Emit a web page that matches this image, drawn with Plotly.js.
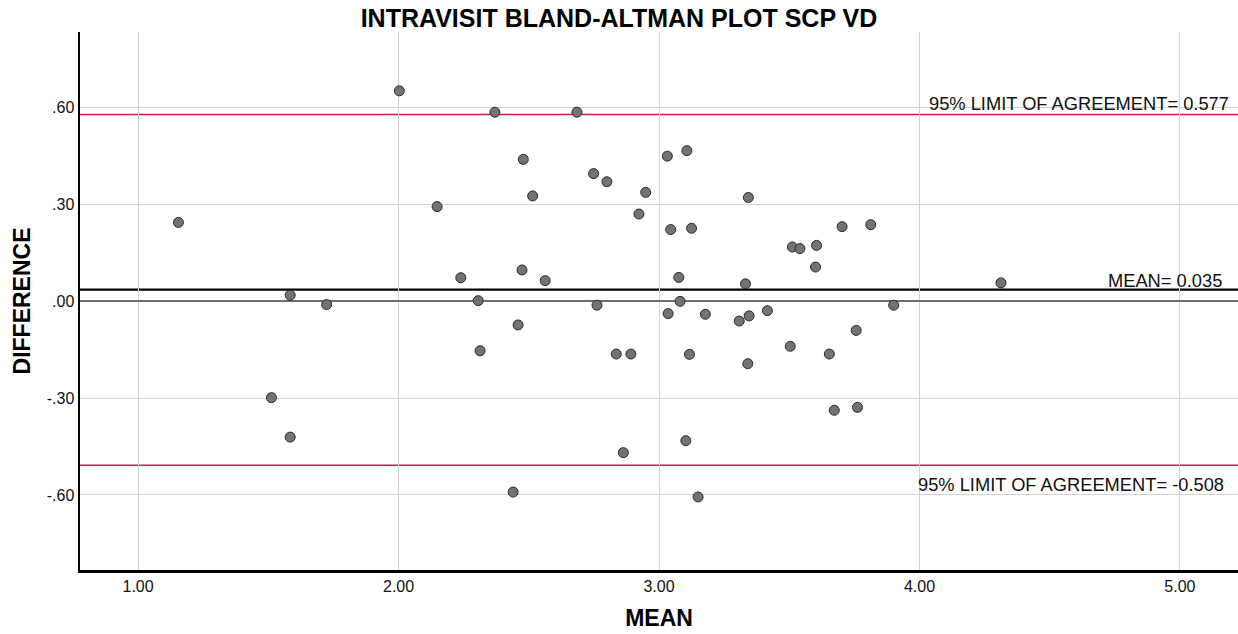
<!DOCTYPE html>
<html>
<head>
<meta charset="utf-8">
<script src="https://cdn.plot.ly/plotly-3.0.1.min.js"></script>
<style>html,body{margin:0;padding:0;background:#fff;}#chart{width:1238px;height:634px;}</style>
</head>
<body>
<div id="chart"></div>
<script>
// Bland-Altman data: mean of two measurements (x) vs difference (y)
const meanValues = [1.155, 2.003, 1.584, 1.724, 2.370, 2.685, 2.479, 2.515, 2.148, 2.749,
  2.800, 2.949, 2.923, 3.032, 3.107, 3.045, 3.125, 3.343, 3.512, 3.541,
  3.605, 3.601, 2.239, 2.474, 2.563, 3.076, 3.332, 2.306, 2.762, 3.081,
  3.035, 3.178, 3.308, 3.346, 3.416, 3.703, 3.813, 4.313, 3.901, 1.512,
  1.584, 2.459, 2.313, 2.836, 2.892, 3.117, 3.341, 3.504, 3.103, 2.863,
  2.440, 3.150, 3.757, 3.654, 3.673, 3.762];
const diffValues = [0.243, 0.650, 0.018, -0.011, 0.584, 0.584, 0.438, 0.325, 0.292, 0.394,
  0.369, 0.336, 0.269, 0.448, 0.465, 0.221, 0.225, 0.320, 0.167, 0.162,
  0.172, 0.105, 0.072, 0.096, 0.063, 0.073, 0.053, 0.001, -0.013, -0.001,
  -0.039, -0.041, -0.062, -0.046, -0.030, 0.230, 0.236, 0.056, -0.013, -0.299,
  -0.421, -0.074, -0.154, -0.164, -0.164, -0.165, -0.194, -0.140, -0.432, -0.469,
  -0.591, -0.606, -0.091, -0.164, -0.338, -0.329];

const meanDiff = 0.035;
const upperLoA = 0.577;
const lowerLoA = -0.508;

const xTickVals = [1, 2, 3, 4, 5];
const xTickText = ["1.00", "2.00", "3.00", "4.00", "5.00"];
const yTickVals = [-0.6, -0.3, 0, 0.3, 0.6];
const yTickText = ["-.60", "-.30", ".00", ".30", ".60"];

const xRange = [0.777, 5.223];
const yRange = [-0.832, 0.832];

const FONT = "Liberation Sans, Arial, sans-serif";

const trace = {
  type: "scatter",
  mode: "markers",
  x: meanValues,
  y: diffValues,
  marker: {size: 10, color: "#737373", line: {color: "#2a2a2a", width: 1}},
  hoverinfo: "x+y"
};

function hline(y, color, width) {
  return {type: "line", xref: "x", yref: "y", x0: xRange[0], x1: xRange[1], y0: y, y1: y,
    line: {color: color, width: width}, layer: "below"};
}

const layout = {
  width: 1238,
  height: 634,
  margin: {l: 80, r: 0, t: 32, b: 64},
  paper_bgcolor: "#ffffff",
  plot_bgcolor: "#ffffff",
  showlegend: false,
  font: {family: FONT, color: "#000"},
  title: {
    text: "<b>INTRAVISIT BLAND-ALTMAN PLOT SCP VD</b>",
    font: {family: FONT, size: 25, color: "#000"},
    x: 0.5, xref: "container", xanchor: "center",
    y: 1 - 18 / 634, yref: "container", yanchor: "middle"
  },
  xaxis: {
    range: xRange,
    tickvals: xTickVals,
    ticktext: xTickText,
    tickfont: {family: FONT, size: 16, color: "#111"},
    showgrid: true, gridcolor: "#d2d2d2", gridwidth: 1,
    zeroline: false,
    showline: true, linecolor: "#000", linewidth: 2.5,
    ticks: "",
    title: {text: "<b>MEAN</b>", font: {family: FONT, size: 23, color: "#000"}, standoff: 16}
  },
  yaxis: {
    range: yRange,
    tickvals: yTickVals,
    ticktext: yTickText,
    tickfont: {family: FONT, size: 16, color: "#111"},
    showgrid: true, gridcolor: "#d2d2d2", gridwidth: 1,
    zeroline: true, zerolinecolor: "#6e6e6e", zerolinewidth: 1.5,
    showline: true, linecolor: "#000", linewidth: 2.5,
    ticks: "",
    title: {text: "<b>DIFFERENCE</b>", font: {family: FONT, size: 23, color: "#000"}, standoff: 10}
  },
  shapes: [
    hline(upperLoA, "#d4174a", 1.6),
    hline(lowerLoA, "#d4174a", 1.6),
    hline(meanDiff, "#000000", 2.2)
  ],
  annotations: [
    {xref: "paper", yref: "y", x: 0.9939, y: upperLoA, xanchor: "right", yanchor: "middle", yshift: 11,
     text: "95% LIMIT OF AGREEMENT= " + upperLoA.toFixed(3), showarrow: false,
     font: {family: FONT, size: 18.3, color: "#111"}},
    {xref: "paper", yref: "y", x: 0.988, y: meanDiff, xanchor: "right", yanchor: "middle", yshift: 9,
     text: "MEAN= " + meanDiff.toFixed(3), showarrow: false,
     font: {family: FONT, size: 18.3, color: "#111"}},
    {xref: "paper", yref: "y", x: 0.990, y: lowerLoA, xanchor: "right", yanchor: "middle", yshift: -19,
     text: "95% LIMIT OF AGREEMENT= " + lowerLoA.toFixed(3), showarrow: false,
     font: {family: FONT, size: 18.3, color: "#111"}}
  ]
};

Plotly.newPlot("chart", [trace], layout, {displayModeBar: false, staticPlot: true});
</script>
</body>
</html>
